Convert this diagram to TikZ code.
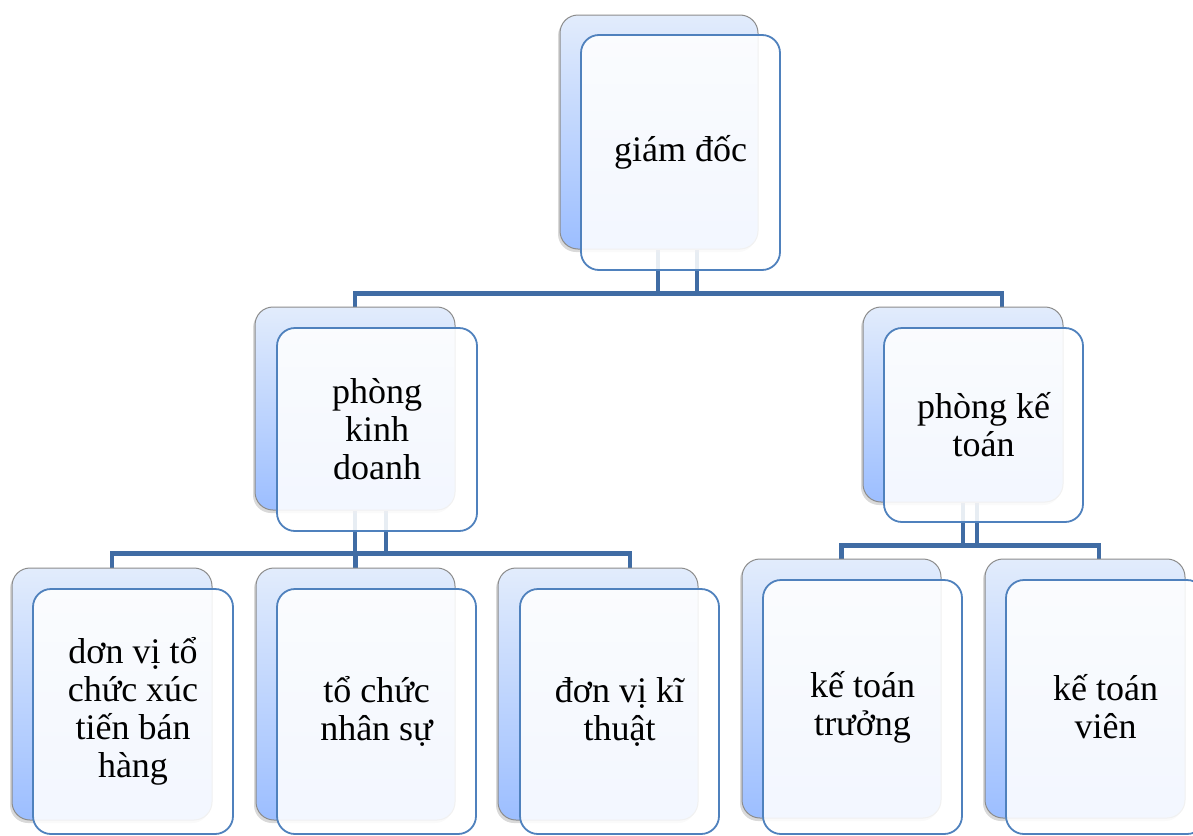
\documentclass[tikz,border=0pt]{standalone}
\usepackage{fontspec}
\setmainfont{Liberation Serif}
\usetikzlibrary{shadows,backgrounds}
\definecolor{conncol}{RGB}{64,108,164}
\definecolor{frontcol}{RGB}{79,129,189}
\definecolor{backtop}{RGB}{226,236,252}
\definecolor{backbot}{RGB}{156,190,255}
\begin{document}
\begin{tikzpicture}[x=1pt,y=-1pt,
  backbox/.style={rectangle, rounded corners=18pt, draw=black!45, line width=1pt,
    top color=backtop, bottom color=backbot, inner sep=0pt,
    drop shadow={shadow xshift=-2pt, shadow yshift=-3pt, opacity=0.3}},
  frontbox/.style={rectangle, rounded corners=18pt, draw=frontcol, line width=1.8pt,
    fill=white, fill opacity=0.88, text opacity=1, inner sep=0pt, align=center,
    font=\fontsize{36}{38}\selectfont},
  conn/.style={draw=conncol, line width=4.5pt}]
\useasboundingbox (0,0) rectangle (1193,835);

% level 0
\node[backbox, minimum width=198pt, minimum height=234pt] (gdB) at (659,132) {};
\node[frontbox, minimum width=199pt, minimum height=235pt] (gdF) at (680.5,152.5) {giám đốc};

% level 1
\node[backbox, minimum width=200pt, minimum height=203pt] (kdB) at (355,408.5) {};
\node[frontbox, minimum width=200pt, minimum height=203pt] (kdF) at (377,429.5) {phòng\\kinh\\doanh};
\node[backbox, minimum width=200pt, minimum height=195pt] (ktB) at (963,404.5) {};
\node[frontbox, minimum width=199pt, minimum height=194pt] (ktF) at (983.5,425) {phòng kế\\toán};

% level 2
\node[backbox, minimum width=200pt, minimum height=252pt] (l1B) at (112,694) {};
\node[frontbox, minimum width=200pt, minimum height=245pt] (l1F) at (133,711.5) {dơn vị tổ\\chức xúc\\tiến bán\\hàng};
\node[backbox, minimum width=199pt, minimum height=252pt] (l2B) at (355.5,694) {};
\node[frontbox, minimum width=199pt, minimum height=245pt] (l2F) at (376.5,711.5) {tổ chức\\nhân sự};
\node[backbox, minimum width=200pt, minimum height=252pt] (l3B) at (598,694) {};
\node[frontbox, minimum width=199pt, minimum height=245pt] (l3F) at (619.5,711.5) {đơn vị kĩ\\thuật};
\node[backbox, minimum width=199pt, minimum height=259pt] (l4B) at (841.5,688.5) {};
\node[frontbox, minimum width=199pt, minimum height=254pt] (l4F) at (862.5,707) {kế toán\\trưởng};
\node[backbox, minimum width=200pt, minimum height=259pt] (l5B) at (1085,688.5) {};
\node[frontbox, minimum width=199pt, minimum height=254pt] (l5F) at (1105.5,707) {kế toán\\viên};

\begin{scope}[on background layer]
\draw[conn] ([xshift=-1pt]gdB.south) -- ++(0,44) -| (kdB.north);
\draw[conn] ([xshift=38pt]gdB.south) -- ++(0,44) -| ([xshift=39pt]ktB.north);
\draw[conn] ([xshift=-3pt,yshift=-44pt]gdB.south) -- ([xshift=40pt,yshift=-44pt]gdB.south);
\draw[conn] (kdB.south) -- ++(0,43) -| (l1B.north);
\draw[conn] (kdB.south) -- ++(0,43) -| (l2B.north);
\draw[conn] ([xshift=31pt]kdB.south) -- ++(0,43) -| ([xshift=32pt]l3B.north);
\draw[conn] ([xshift=-2pt,yshift=-43pt]kdB.south) -- ([xshift=33pt,yshift=-43pt]kdB.south);
\draw[conn] (ktB.south) -- ++(0,43) -| (l4B.north);
\draw[conn] ([xshift=14pt]ktB.south) -- ++(0,43) -| ([xshift=14pt]l5B.north);
\draw[conn] ([xshift=-2pt,yshift=-43pt]ktB.south) -- ([xshift=16pt,yshift=-43pt]ktB.south);
\end{scope}
\end{tikzpicture}
\end{document}
